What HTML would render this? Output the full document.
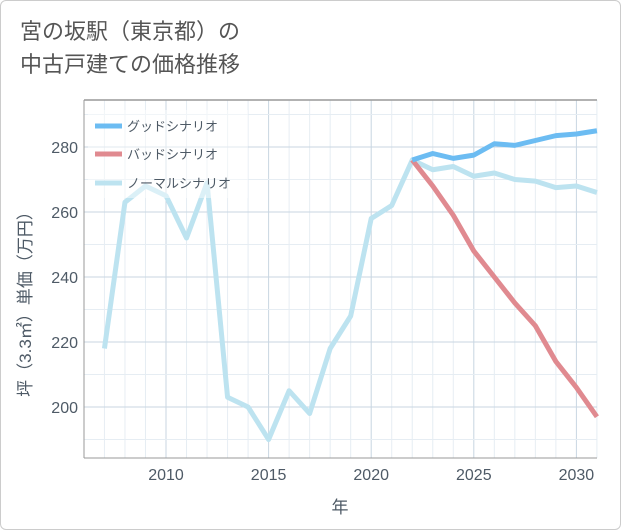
<!DOCTYPE html>
<html><head><meta charset="utf-8"><style>
body{margin:0;background:#fff;font-family:"Liberation Sans","Noto Sans CJK JP",sans-serif;}
.frame{position:absolute;left:0;top:0;width:619px;height:528px;border:1px solid #ccc;border-radius:6px;}
.title{position:absolute;left:20px;top:15px;font-size:22px;line-height:33px;color:#555;}
</style></head><body>
<div class="frame"></div>
<div class="title">宮の坂駅（東京都）の<br>中古戸建ての価格推移</div>
<svg width="621" height="530" style="position:absolute;left:0;top:0" id="chart"></svg>
<script>
const years=[2007,2008,2009,2010,2011,2012,2013,2014,2015,2016,2017,2018,2019,2020,2021,2022,2023,2024,2025,2026,2027,2028,2029,2030,2031];
const normal=[218,263,268,265,252,269,203,200,190,205,198,218,228,258,262,276,273,274,271,272,270,269.5,267.5,268,266];
const goodYears=[2022,2023,2024,2025,2026,2027,2028,2029,2030,2031];
const good=[276,278,276.5,277.5,281,280.5,282,283.5,284,285];
const bad=[276,268,259,248,240,232,225,214,206,197];
const xTicks=[2010,2015,2020,2025,2030];
const yTicks=[200,220,240,260,280];
const NS="http://www.w3.org/2000/svg";
const svg=document.getElementById('chart');
const L=84,R=597,T=100,B=458;
const x=v=>166+(v-2010)*20.52;
const y=v=>147+(280-v)*3.25;
function mk(t,a){const e=document.createElementNS(NS,t);for(const k in a)e.setAttribute(k,a[k]);svg.appendChild(e);return e;}
let e=mk('rect',{x:L,y:T,width:R-L,height:B-T,fill:'#fff',stroke:'none'});


for(let yr=2007;yr<=2031;yr++){e=mk('line',{x1:x(yr),x2:x(yr),y1:T,y2:B,stroke:xTicks.includes(yr)?'#c8d6e2':'#e6edf3','stroke-width':1});

}
for(let v=190;v<=290;v+=10){if(y(v)<T||y(v)>B)continue;e=mk('line',{x1:L,x2:R,y1:y(v),y2:y(v),stroke:yTicks.includes(v)?'#c8d6e2':'#e6edf3','stroke-width':1});

}
e=mk('line',{x1:L,x2:R,y1:T,y2:T,stroke:'#999','stroke-width':1.5});


e=mk('line',{x1:L,x2:L,y1:T,y2:B,stroke:'#999','stroke-width':1});


e=mk('line',{x1:L,x2:R,y1:B,y2:B,stroke:'#999','stroke-width':1});


xTicks.forEach(v=>{e=mk('text',{x:x(v),y:480,'text-anchor':'middle','font-size':16,fill:'#4e5a66'});e.textContent=v;

});
yTicks.forEach(v=>{e=mk('text',{x:78,y:y(v)+6,'text-anchor':'end','font-size':16,fill:'#4e5a66'});e.textContent=v;

});
e=mk('text',{x:340,y:513,'text-anchor':'middle','font-size':17,fill:'#4e5a66'});e.textContent='年';


e=mk('text',{x:0,y:0,'text-anchor':'middle','font-size':17,fill:'#4e5a66',transform:'translate(31,300) rotate(-90)'});e.textContent='坪（3.3㎡）単価（万円）';


function series(xs,vs,col,name){const d=xs.map((yr,i)=>(i?'L':'M')+x(yr)+','+y(vs[i])).join(' ');
const p=mk('path',{d:d,fill:'none',stroke:col,'stroke-width':5,'stroke-linejoin':'round'});

}
series(years,normal,'#bde3f0','normal-scenario-line');
series(goodYears,bad,'#e08a90','bad-scenario-line');
series(goodYears,good,'#6cbcf2','good-scenario-line');
e=mk('rect',{x:88,y:110,width:160,height:88,fill:'#fff','fill-opacity':0.45});


const leg=[['グッドシナリオ','#6cbcf2',126],['バッドシナリオ','#e08a90',154],['ノーマルシナリオ','#bde3f0',183]];
leg.forEach(l=>{e=mk('line',{x1:95,x2:122,y1:l[2],y2:l[2],stroke:l[1],'stroke-width':5});


e=mk('text',{x:127,y:l[2]+5,'font-size':13,fill:'#4e5a66'});e.textContent=l[0];

});
</script>
</body></html>
